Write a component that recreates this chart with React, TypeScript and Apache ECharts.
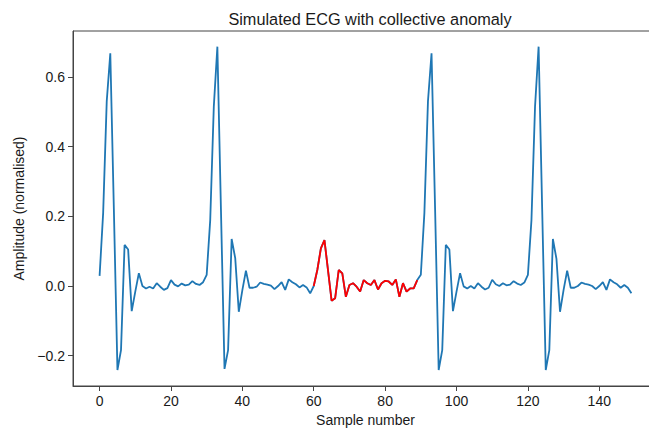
import React, { useEffect, useRef } from "react";
import * as echarts from "echarts";

const title = "Simulated ECG with collective anomaly";
const xName = "Sample number";
const yName = "Amplitude (normalised)";

// amplitude per sample (index = sample number)
const amplitude: number[] = [
  0.029, 0.21, 0.53, 0.668, 0.22, -0.241, -0.184, 0.118, 0.105, -0.072,
  -0.016, 0.037, 0.0, -0.007, -0.002, -0.007, 0.008, -0.002, -0.011, -0.006,
  0.017, 0.004, -0.001, 0.007, 0.002, 0.004, 0.014, 0.006, 0.003, 0.011,
  0.032, 0.19, 0.515, 0.687, 0.22, -0.238, -0.184, 0.135, 0.08, -0.074,
  -0.012, 0.044, -0.005, -0.005, -0.002, 0.01, 0.006, 0.004, 0.001, -0.009,
  0.0, 0.011, -0.011, 0.019, 0.011, 0.005, -0.004, 0.003, -0.004, -0.021,
  0.0, 0.046, 0.108, 0.132, 0.045, -0.042, -0.035, 0.046, 0.036, -0.031,
  0.003, 0.008, -0.002, -0.016, 0.017, 0.008, 0.003, 0.017, -0.01, 0.008,
  0.015, 0.013, 0.003, 0.019, -0.031, 0.008, -0.016, -0.007, -0.007, 0.017,
  0.032, 0.21, 0.53, 0.668, 0.22, -0.241, -0.184, 0.118, 0.105, -0.072,
  -0.016, 0.037, -0.001, -0.007, 0.0, -0.007, 0.008, -0.002, -0.01, -0.005,
  0.018, 0.005, 0.0, 0.008, 0.002, 0.004, 0.014, 0.007, 0.003, 0.01,
  0.032, 0.19, 0.515, 0.687, 0.22, -0.241, -0.184, 0.135, 0.078, -0.074,
  -0.011, 0.044, -0.005, -0.005, 0.0, 0.01, 0.006, 0.004, 0.0, -0.009,
  0.0, 0.011, -0.011, 0.019, 0.011, 0.005, -0.005, 0.003, -0.005, -0.021,
];

// anomaly section (inclusive sample range)
const anomalyStart = 60;
const anomalyEnd = 89;

const xTicks = [0, 20, 40, 60, 80, 100, 120, 140];
const yTicks = [-0.2, 0.0, 0.2, 0.4, 0.6];

const FONT = "'Liberation Sans', Arial, 'DejaVu Sans', sans-serif";

export default function App() {
  const ref = useRef<HTMLDivElement>(null);

  useEffect(() => {
    if (!ref.current) return;
    const chart = echarts.init(ref.current, undefined, { renderer: "svg" });
    const full = amplitude.map((v, i) => [i, v]);
    const anomaly = full.slice(anomalyStart, anomalyEnd + 1);

    chart.setOption({
      animation: false,
      backgroundColor: "#ffffff",
      textStyle: { fontFamily: FONT },
      title: {
        text: title,
        left: 365,
        textAlign: "center",
        top: 6,
        textStyle: { fontFamily: FONT, fontSize: 16.3, fontWeight: "normal", color: "#1a1a1a" },
      },
      grid: {
        left: 73,
        top: 31,
        width: 585,
        height: 355,
        show: true,
        borderColor: "#444",
        borderWidth: 1,
        backgroundColor: "transparent",
        containLabel: false,
        outerBoundsMode: "none",
      },
      xAxis: {
        type: "value",
        min: -7.45,
        max: 156.45,
        name: xName,
        nameLocation: "middle",
        nameGap: 26,
        nameTextStyle: { fontFamily: FONT, fontSize: 14, color: "#1a1a1a" },
        axisLine: { show: true, onZero: false, lineStyle: { color: "#444", width: 1 } },
        axisTick: { show: true, length: 5, customValues: xTicks, lineStyle: { color: "#444" } },
        axisLabel: {
          customValues: xTicks,
          margin: 8,
          fontFamily: FONT,
          fontSize: 14,
          color: "#1a1a1a",
        },
        splitLine: { show: false },
      },
      yAxis: {
        type: "value",
        min: -0.287,
        max: 0.732,
        name: yName,
        nameLocation: "middle",
        nameGap: 44,
        nameTextStyle: { fontFamily: FONT, fontSize: 14, color: "#1a1a1a" },
        axisLine: { show: true, onZero: false, lineStyle: { color: "#444", width: 1 } },
        axisTick: { show: true, length: 5, customValues: yTicks, lineStyle: { color: "#444" } },
        axisLabel: {
          customValues: yTicks,
          margin: 8,
          fontFamily: FONT,
          fontSize: 14,
          color: "#1a1a1a",
          formatter: (v: number) => (v < 0 ? "\u2212" : "") + Math.abs(v).toFixed(1),
        },
        splitLine: { show: false },
      },
      series: [
        {
          type: "line",
          data: full,
          showSymbol: false,
          symbol: "none",
          lineStyle: { color: "#1f77b4", width: 1.8 },
          z: 2,
        },
        {
          type: "line",
          data: anomaly,
          showSymbol: false,
          symbol: "none",
          lineStyle: { color: "#ff0000", width: 1.8 },
          z: 3,
        },
      ],
    });

    return () => chart.dispose();
  }, []);

  return <div ref={ref} style={{ width: 649, height: 429, position: "absolute", left: 0, top: 0 }} />;
}
